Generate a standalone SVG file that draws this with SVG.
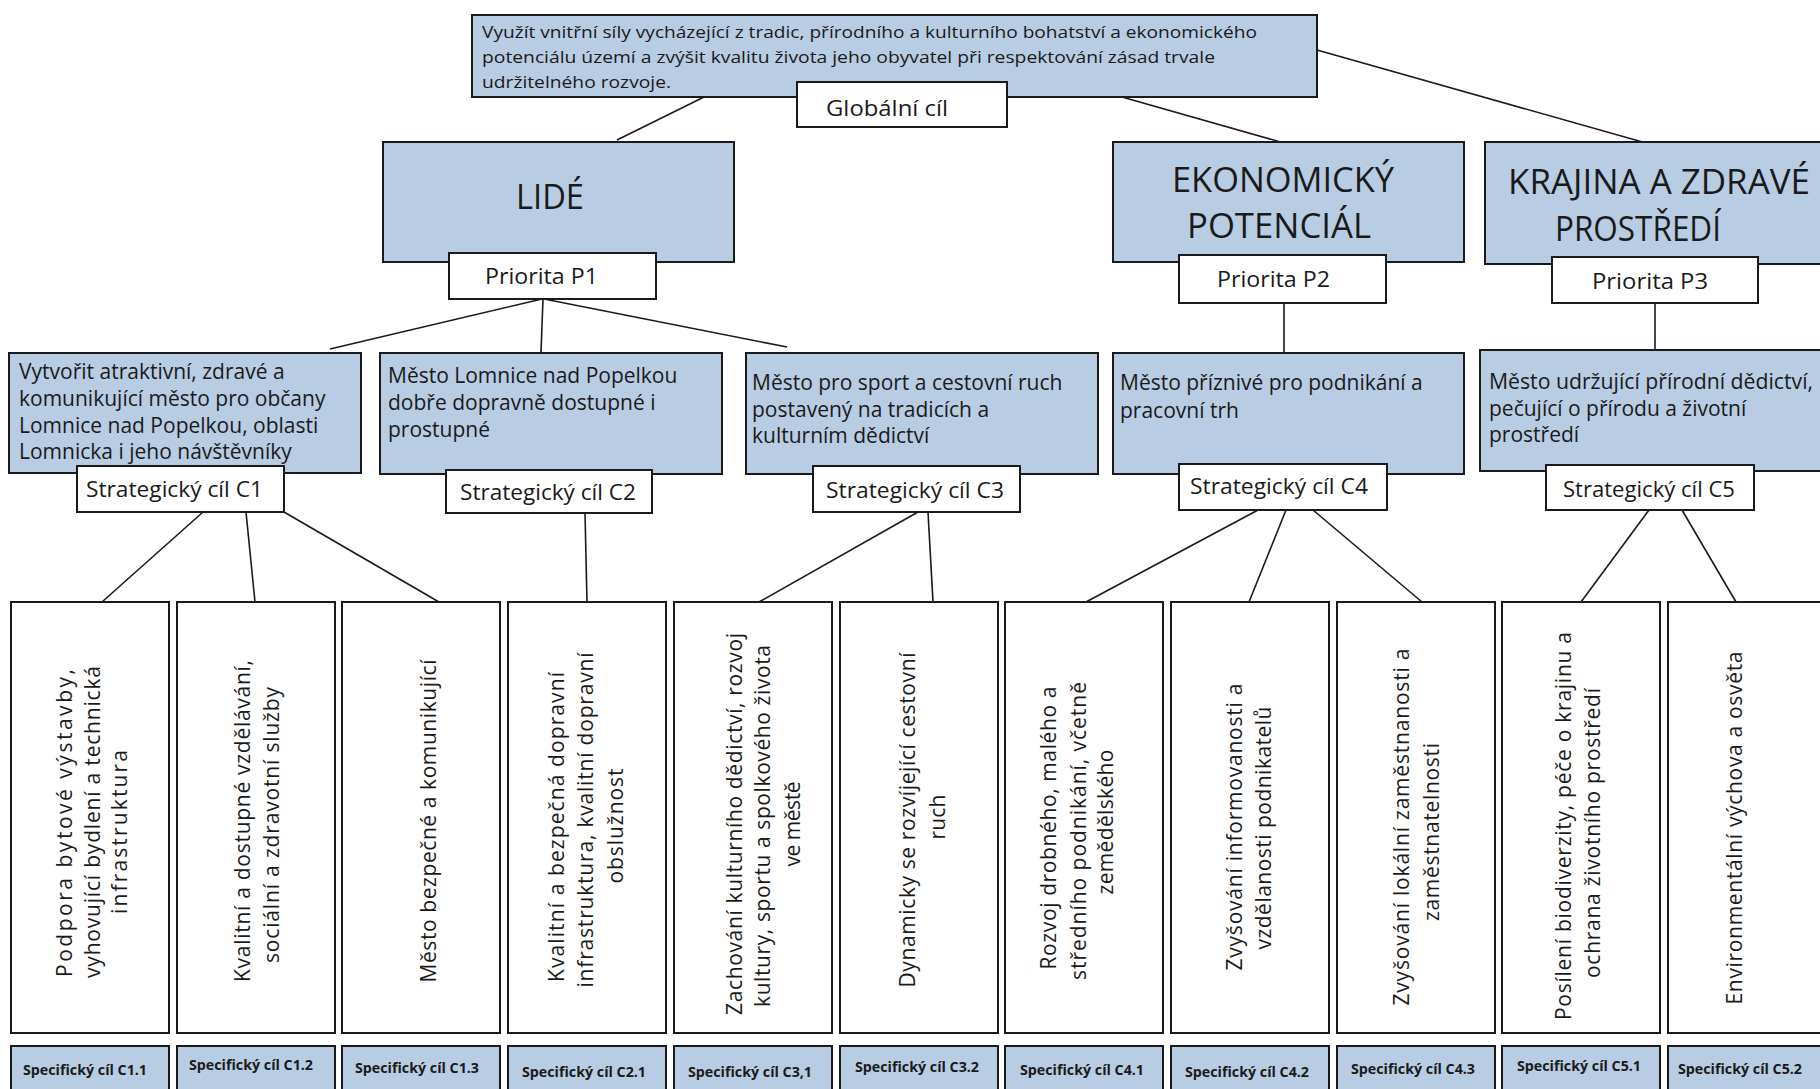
<svg xmlns="http://www.w3.org/2000/svg" width="1820" height="1089" viewBox="0 0 1820 1089">
<style>
  .bg{fill:#ffffff}
  .blue{fill:#b8cce4;stroke:#1a1a1a;stroke-width:2}
  .white{fill:#ffffff;stroke:#1a1a1a;stroke-width:2}
  .conn line{stroke:#1a1a1a;stroke-width:1.6}
  text{font-family:"Open Sans","Noto Sans","DejaVu Sans",sans-serif;fill:#1a1a1a}
  .g{font-size:17px}
  .lbl{font-size:22px}
  .big{font-size:34px}
  .s{font-size:21px}
  .v{font-size:21px;text-anchor:middle}
  .sp{font-size:13.5px;font-weight:bold}
</style>
<rect class="bg" x="0" y="0" width="1820" height="1089"/>

<g id="connectors" class="conn">
  <line x1="704" y1="97" x2="617" y2="140"/>
  <line x1="1122" y1="97" x2="1284" y2="143"/>
  <line x1="1317" y1="50" x2="1646" y2="143"/>
  <line x1="542" y1="299" x2="330" y2="349"/>
  <line x1="543" y1="299" x2="541" y2="352"/>
  <line x1="544" y1="299" x2="787" y2="347"/>
  <line x1="1284" y1="303" x2="1284" y2="353"/>
  <line x1="1655" y1="303" x2="1655" y2="350"/>
  <line x1="203" y1="512" x2="102" y2="602"/>
  <line x1="246" y1="512" x2="255" y2="602"/>
  <line x1="284" y1="512" x2="439" y2="602"/>
  <line x1="585" y1="513" x2="587" y2="602"/>
  <line x1="918" y1="512" x2="759" y2="602"/>
  <line x1="928" y1="512" x2="933" y2="602"/>
  <line x1="1258" y1="510" x2="1086" y2="602"/>
  <line x1="1286" y1="510" x2="1249" y2="602"/>
  <line x1="1313" y1="510" x2="1422" y2="602"/>
  <line x1="1649" y1="510" x2="1581" y2="602"/>
  <line x1="1682" y1="510" x2="1736" y2="602"/>
</g>

<g id="global">
  <rect class="blue" x="472" y="15" width="845" height="82"/>
  <text class="g" x="482" y="38" textLength="775" lengthAdjust="spacingAndGlyphs">Využít vnitřní síly vycházející z tradic, přírodního a kulturního bohatství a ekonomického</text>
  <text class="g" x="482" y="63" textLength="733" lengthAdjust="spacingAndGlyphs">potenciálu území a zvýšit kvalitu života jeho obyvatel při respektování zásad trvale</text>
  <text class="g" x="482" y="88" textLength="189" lengthAdjust="spacingAndGlyphs">udržitelného rozvoje.</text>
</g>
<g id="global-label">
  <rect class="white" x="797" y="82" width="210" height="45"/>
  <text class="lbl" x="826" y="116" textLength="122" lengthAdjust="spacingAndGlyphs">Globální cíl</text>
</g>

<g id="p1">
  <rect class="blue" x="383" y="142" width="351" height="120"/>
  <text class="big" x="516" y="209" textLength="68" lengthAdjust="spacingAndGlyphs">LIDÉ</text>
  <rect class="white" x="449" y="253" width="207" height="46"/>
  <text class="lbl" x="485" y="284" textLength="113" lengthAdjust="spacingAndGlyphs">Priorita P1</text>
</g>
<g id="p2">
  <rect class="blue" x="1113" y="142" width="351" height="120"/>
  <text class="big" x="1172" y="192" textLength="222" lengthAdjust="spacingAndGlyphs">EKONOMICKÝ</text>
  <text class="big" x="1187" y="238" textLength="184" lengthAdjust="spacingAndGlyphs">POTENCIÁL</text>
  <rect class="white" x="1179" y="255" width="207" height="48"/>
  <text class="lbl" x="1217" y="287" textLength="113" lengthAdjust="spacingAndGlyphs">Priorita P2</text>
</g>
<g id="p3">
  <rect class="blue" x="1485" y="142" width="345" height="122"/>
  <text class="big" x="1508" y="194" textLength="302" lengthAdjust="spacingAndGlyphs">KRAJINA A ZDRAVÉ</text>
  <text class="big" x="1555" y="241" textLength="166" lengthAdjust="spacingAndGlyphs">PROSTŘEDÍ</text>
  <rect class="white" x="1552" y="257" width="206" height="46"/>
  <text class="lbl" x="1592" y="289" textLength="116" lengthAdjust="spacingAndGlyphs">Priorita P3</text>
</g>

<g id="c1">
  <rect class="blue" x="9" y="353" width="352" height="120"/>
  <text class="s" x="19" y="379">Vytvořit atraktivní, zdravé a</text>
  <text class="s" x="19" y="406">komunikující město pro občany</text>
  <text class="s" x="19" y="433">Lomnice nad Popelkou, oblasti</text>
  <text class="s" x="19" y="459">Lomnicka i jeho návštěvníky</text>
  <rect class="white" x="77" y="466" width="207" height="46"/>
  <text class="lbl" x="86" y="497" textLength="177" lengthAdjust="spacingAndGlyphs">Strategický cíl C1</text>
</g>
<g id="c2">
  <rect class="blue" x="380" y="353" width="342" height="121"/>
  <text class="s" x="388" y="383">Město Lomnice nad Popelkou</text>
  <text class="s" x="388" y="410">dobře dopravně dostupné i</text>
  <text class="s" x="388" y="437">prostupné</text>
  <rect class="white" x="446" y="470" width="206" height="43"/>
  <text class="lbl" x="460" y="500" textLength="176" lengthAdjust="spacingAndGlyphs">Strategický cíl C2</text>
</g>
<g id="c3">
  <rect class="blue" x="746" y="353" width="352" height="121"/>
  <text class="s" x="752" y="390">Město pro sport a cestovní ruch</text>
  <text class="s" x="752" y="417">postavený na tradicích a</text>
  <text class="s" x="752" y="443">kulturním dědictví</text>
  <rect class="white" x="813" y="466" width="207" height="46"/>
  <text class="lbl" x="826" y="498" textLength="178" lengthAdjust="spacingAndGlyphs">Strategický cíl C3</text>
</g>
<g id="c4">
  <rect class="blue" x="1113" y="353" width="351" height="121"/>
  <text class="s" x="1120" y="390">Město příznivé pro podnikání a</text>
  <text class="s" x="1120" y="418">pracovní trh</text>
  <rect class="white" x="1179" y="464" width="208" height="46"/>
  <text class="lbl" x="1190" y="494" textLength="178" lengthAdjust="spacingAndGlyphs">Strategický cíl C4</text>
</g>
<g id="c5">
  <rect class="blue" x="1480" y="350" width="350" height="121"/>
  <text class="s" x="1489" y="389" textLength="324" lengthAdjust="spacingAndGlyphs">Město udržující přírodní dědictví,</text>
  <text class="s" x="1489" y="416">pečující o přírodu a životní</text>
  <text class="s" x="1489" y="442">prostředí</text>
  <rect class="white" x="1546" y="465" width="208" height="45"/>
  <text class="lbl" x="1563" y="497" textLength="172" lengthAdjust="spacingAndGlyphs">Strategický cíl C5</text>
</g>

<g id="o11">
  <rect class="white" x="11" y="602" width="158" height="431"/>
  <text class="v" transform="translate(72,823) rotate(-90)" textLength="308" lengthAdjust="spacing">Podpora bytové výstavby,</text>
  <text class="v" transform="translate(99.5,822) rotate(-90)" textLength="312" lengthAdjust="spacing">vyhovující bydlení a technická</text>
  <text class="v" transform="translate(126.5,832) rotate(-90)" textLength="164" lengthAdjust="spacing">infrastruktura</text>
</g>
<g id="o12">
  <rect class="white" x="177" y="602" width="158" height="431"/>
  <text class="v" transform="translate(249.5,821) rotate(-90)" textLength="322" lengthAdjust="spacing">Kvalitní a dostupné vzdělávání,</text>
  <text class="v" transform="translate(278.5,825) rotate(-90)" textLength="276" lengthAdjust="spacing">sociální a zdravotní služby</text>
</g>
<g id="o13">
  <rect class="white" x="342" y="602" width="158" height="431"/>
  <text class="v" transform="translate(435.5,821) rotate(-90)" textLength="323" lengthAdjust="spacing">Město bezpečné a komunikující</text>
</g>
<g id="o21">
  <rect class="white" x="508" y="602" width="158" height="431"/>
  <text class="v" transform="translate(563.5,827) rotate(-90)" textLength="310" lengthAdjust="spacing">Kvalitní a bezpečná dopravní</text>
  <text class="v" transform="translate(593,820) rotate(-90)" textLength="335" lengthAdjust="spacing">infrastruktura, kvalitní dopravní</text>
  <text class="v" transform="translate(623,826) rotate(-90)" textLength="115" lengthAdjust="spacing">obslužnost</text>
</g>
<g id="o31">
  <rect class="white" x="674" y="602" width="158" height="431"/>
  <text class="v" transform="translate(741.5,824) rotate(-90)" textLength="382" lengthAdjust="spacing">Zachování kulturního dědictví, rozvoj</text>
  <text class="v" transform="translate(770,826) rotate(-90)" textLength="362" lengthAdjust="spacing">kultury, sportu a spolkového života</text>
  <text class="v" transform="translate(799.5,824) rotate(-90)" textLength="85" lengthAdjust="spacing">ve městě</text>
</g>
<g id="o32">
  <rect class="white" x="840" y="602" width="158" height="431"/>
  <text class="v" transform="translate(915,820) rotate(-90)" textLength="335" lengthAdjust="spacing">Dynamicky se rozvíjející cestovní</text>
  <text class="v" transform="translate(944.5,817) rotate(-90)" textLength="45" lengthAdjust="spacing">ruch</text>
</g>
<g id="o41">
  <rect class="white" x="1005" y="602" width="158" height="431"/>
  <text class="v" transform="translate(1056,828) rotate(-90)" textLength="283" lengthAdjust="spacing">Rozvoj drobného, malého a</text>
  <text class="v" transform="translate(1085.5,831) rotate(-90)" textLength="298" lengthAdjust="spacing">středního podnikání, včetně</text>
  <text class="v" transform="translate(1113,822) rotate(-90)" textLength="145" lengthAdjust="spacing">zemědělského</text>
</g>
<g id="o42">
  <rect class="white" x="1171" y="602" width="158" height="431"/>
  <text class="v" transform="translate(1241.5,827) rotate(-90)" textLength="287" lengthAdjust="spacing">Zvyšování informovanosti a</text>
  <text class="v" transform="translate(1271,828) rotate(-90)" textLength="243" lengthAdjust="spacing">vzdělanosti podnikatelů</text>
</g>
<g id="o43">
  <rect class="white" x="1337" y="602" width="158" height="431"/>
  <text class="v" transform="translate(1409,827) rotate(-90)" textLength="357" lengthAdjust="spacing">Zvyšování lokální zaměstnanosti a</text>
  <text class="v" transform="translate(1439,832) rotate(-90)" textLength="178" lengthAdjust="spacing">zaměstnatelnosti</text>
</g>
<g id="o51">
  <rect class="white" x="1502" y="602" width="158" height="431"/>
  <text class="v" transform="translate(1570.5,826) rotate(-90)" textLength="388" lengthAdjust="spacing">Posílení biodiverzity, péče o krajinu a</text>
  <text class="v" transform="translate(1599.5,833) rotate(-90)" textLength="290" lengthAdjust="spacing">ochrana životního prostředí</text>
</g>
<g id="o52">
  <rect class="white" x="1668" y="602" width="158" height="431"/>
  <text class="v" transform="translate(1741.5,828) rotate(-90)" textLength="353" lengthAdjust="spacing">Environmentální výchova a osvěta</text>
</g>

<g id="s11"><rect class="blue" x="11" y="1046" width="158" height="60"/><text class="sp" x="23" y="1075" textLength="124" lengthAdjust="spacingAndGlyphs">Specifický cíl C1.1</text></g>
<g id="s12"><rect class="blue" x="177" y="1046" width="158" height="60"/><text class="sp" x="189" y="1070" textLength="124" lengthAdjust="spacingAndGlyphs">Specifický cíl C1.2</text></g>
<g id="s13"><rect class="blue" x="342" y="1046" width="158" height="60"/><text class="sp" x="355" y="1073" textLength="124" lengthAdjust="spacingAndGlyphs">Specifický cíl C1.3</text></g>
<g id="s21"><rect class="blue" x="508" y="1046" width="158" height="60"/><text class="sp" x="522" y="1077" textLength="124" lengthAdjust="spacingAndGlyphs">Specifický cíl C2.1</text></g>
<g id="s31"><rect class="blue" x="674" y="1046" width="158" height="60"/><text class="sp" x="688" y="1077" textLength="124" lengthAdjust="spacingAndGlyphs">Specifický cíl C3,1</text></g>
<g id="s32"><rect class="blue" x="840" y="1046" width="158" height="60"/><text class="sp" x="855" y="1072" textLength="124" lengthAdjust="spacingAndGlyphs">Specifický cíl C3.2</text></g>
<g id="s41"><rect class="blue" x="1005" y="1046" width="158" height="60"/><text class="sp" x="1020" y="1075" textLength="124" lengthAdjust="spacingAndGlyphs">Specifický cíl C4.1</text></g>
<g id="s42"><rect class="blue" x="1171" y="1046" width="158" height="60"/><text class="sp" x="1185" y="1077" textLength="124" lengthAdjust="spacingAndGlyphs">Specifický cíl C4.2</text></g>
<g id="s43"><rect class="blue" x="1337" y="1046" width="158" height="60"/><text class="sp" x="1351" y="1074" textLength="124" lengthAdjust="spacingAndGlyphs">Specifický cíl C4.3</text></g>
<g id="s51"><rect class="blue" x="1502" y="1046" width="158" height="60"/><text class="sp" x="1517" y="1071" textLength="124" lengthAdjust="spacingAndGlyphs">Specifický cíl C5.1</text></g>
<g id="s52"><rect class="blue" x="1668" y="1046" width="158" height="60"/><text class="sp" x="1678" y="1074" textLength="124" lengthAdjust="spacingAndGlyphs">Specifický cíl C5.2</text></g>
</svg>
